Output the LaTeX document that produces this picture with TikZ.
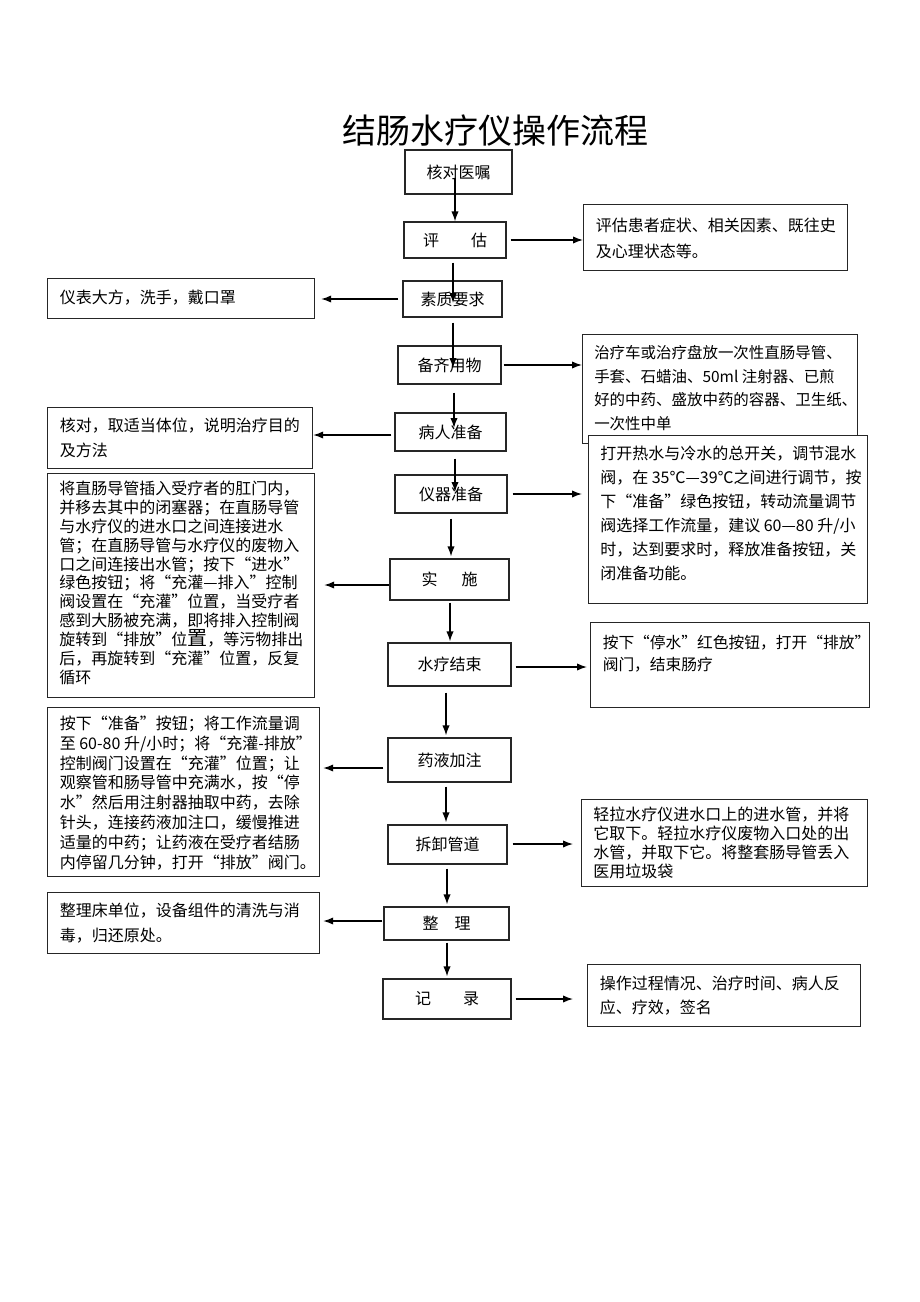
\documentclass[tikz,border=0pt]{standalone}
\usepackage{fontspec}
\setmainfont{Noto Sans CJK SC}
\usetikzlibrary{arrows.meta}

\begin{document}
\begin{tikzpicture}[x=0.75pt,y=-0.75pt,
  box/.style={draw=black!85,line width=0.9pt,fill=white,inner sep=0pt,font=\fontsize{12}{14}\selectfont},
  sidebox/.style={draw=black!85,line width=0.9pt,fill=white,anchor=north west,inner sep=0pt},
  note/.style={anchor=north west,inner sep=0pt,align=left},
  flow/.style={line width=1pt,-{Latex[length=7.5pt,width=5.5pt]}}
]
\useasboundingbox (0,0) rectangle (920,1302);

\node[font=\fontsize{25.5}{30}\selectfont] (title) at (495.5,131) {结肠水疗仪操作流程};

% main steps
\node[box,minimum width=107*0.75pt,minimum height=44*0.75pt] (hedui) at (458.5,172) {核对医嘱};
\node[box,minimum width=102*0.75pt,minimum height=36*0.75pt] (pinggu) at (455,240) {评\hspace{2em}估};
\node[box,minimum width=99*0.75pt,minimum height=36*0.75pt] (suzhi) at (452.5,299) {素质要求};
\node[box,minimum width=103*0.75pt,minimum height=38*0.75pt] (beiqi) at (449.5,365) {备齐用物};
\node[box,minimum width=111*0.75pt,minimum height=38*0.75pt] (bingren) at (450.5,432) {病人准备};
\node[box,minimum width=112*0.75pt,minimum height=38*0.75pt] (yiqi) at (451,494) {仪器准备};
\node[box,minimum width=119*0.75pt,minimum height=41*0.75pt] (shishi) at (449.5,579.5) {实\hspace{1.5em}施};
\node[box,minimum width=123*0.75pt,minimum height=43*0.75pt] (jieshu) at (449.5,664.5) {水疗结束};
\node[box,minimum width=123*0.75pt,minimum height=44*0.75pt] (yaoye) at (449.5,760) {药液加注};
\node[box,minimum width=119*0.75pt,minimum height=39*0.75pt] (chaixie) at (447.5,844.5) {拆卸管道};
\node[box,minimum width=125*0.75pt,minimum height=33*0.75pt] (zhengli) at (446.5,923.5) {整\hspace{1em}理};
\node[box,minimum width=128*0.75pt,minimum height=40*0.75pt] (jilu) at (447,999) {记\hspace{2em}录};

% side notes
\node[sidebox,minimum width=264*0.75pt,minimum height=66*0.75pt] (pinggu_r) at (583,204) {};
\node[note,font=\fontsize{12}{20}\selectfont] at ([shift={(12.5,13.5)}]pinggu_r.north west)
  {评估患者症状、相关因素、既往史\\及心理状态等。};

\node[sidebox,minimum width=267*0.75pt,minimum height=40*0.75pt] (suzhi_l) at (47,278) {};
\node[note,font=\fontsize{12}{19}\selectfont] at ([shift={(12.5,11.5)}]suzhi_l.north west)
  {仪表大方，洗手，戴口罩};

\node[sidebox,minimum width=275*0.75pt,minimum height=109*0.75pt] (beiqi_r) at (582,334) {};
\node[note,font=\fontsize{11.6}{17.6}\selectfont] at ([shift={(12,11.5)}]beiqi_r.north west)
  {治疗车或治疗盘放一次性直肠导管、\\手套、石蜡油、50ml 注射器、已煎\\好的中药、盛放中药的容器、卫生纸、\\一次性中单};

\node[sidebox,minimum width=265*0.75pt,minimum height=61*0.75pt] (bingren_l) at (47,407) {};
\node[note,font=\fontsize{12}{19}\selectfont] at ([shift={(12.5,10.5)}]bingren_l.north west)
  {核对，取适当体位，说明治疗目的\\及方法};

\node[sidebox,minimum width=279*0.75pt,minimum height=168*0.75pt] (yiqi_r) at (588,435) {};
\node[note,font=\fontsize{12}{18}\selectfont] at ([shift={(12,10.5)}]yiqi_r.north west)
  {打开热水与冷水的总开关，调节混水\\阀，在 35℃—39℃之间进行调节，按\\下“准备”绿色按钮，转动流量调节\\阀选择工作流量，建议 60—80 升/小\\时，达到要求时，释放准备按钮，关\\闭准备功能。};

\node[sidebox,minimum width=267*0.75pt,minimum height=224*0.75pt] (shishi_l) at (47,473) {};
\node[note,font=\fontsize{12}{14.2}\selectfont] at ([shift={(12,7.5)}]shishi_l.north west)
  {将直肠导管插入受疗者的肛门内，\\并移去其中的闭塞器；在直肠导管\\与水疗仪的进水口之间连接进水\\管；在直肠导管与水疗仪的废物入\\口之间连接出水管；按下“进水”\\绿色按钮；将“充灌—排入”控制\\阀设置在“充灌”位置，当受疗者\\感到大肠被充满，即将排入控制阀\\旋转到“排放”位{\fontsize{15}{14.2}\selectfont 置}，等污物排出\\后，再旋转到“充灌”位置，反复\\循环};

\node[sidebox,minimum width=279*0.75pt,minimum height=85*0.75pt] (jieshu_r) at (590,622) {};
\node[note,font=\fontsize{11.8}{16.5}\selectfont] at ([shift={(12.5,12.5)}]jieshu_r.north west)
  {按下“停水”红色按钮，打开“排放”\\阀门，结束肠疗};

\node[sidebox,minimum width=272*0.75pt,minimum height=169*0.75pt] (yaoye_l) at (47,707) {};
\node[note,font=\fontsize{12}{14.9}\selectfont] at ([shift={(12.5,8.5)}]yaoye_l.north west)
  {按下“准备”按钮；将工作流量调\\至 60-80 升/小时；将“充灌-排放”\\控制阀门设置在“充灌”位置；让\\观察管和肠导管中充满水，按“停\\水”然后用注射器抽取中药，去除\\针头，连接药液加注口，缓慢推进\\适量的中药；让药液在受疗者结肠\\内停留几分钟，打开“排放”阀门。};

\node[sidebox,minimum width=286*0.75pt,minimum height=87*0.75pt] (chaixie_r) at (581,799) {};
\node[note,font=\fontsize{12}{14.3}\selectfont] at ([shift={(12,7.5)}]chaixie_r.north west)
  {轻拉水疗仪进水口上的进水管，并将\\它取下。轻拉水疗仪废物入口处的出\\水管，并取下它。将整套肠导管丢入\\医用垃圾袋};

\node[sidebox,minimum width=272*0.75pt,minimum height=61*0.75pt] (zhengli_l) at (47,892) {};
\node[note,font=\fontsize{12}{19}\selectfont] at ([shift={(12.5,10.5)}]zhengli_l.north west)
  {整理床单位，设备组件的清洗与消\\毒，归还原处。};

\node[sidebox,minimum width=273*0.75pt,minimum height=62*0.75pt] (jilu_r) at (587,964) {};
\node[note,font=\fontsize{12}{18}\selectfont] at ([shift={(12.5,11.5)}]jilu_r.north west)
  {操作过程情况、治疗时间、病人反\\应、疗效，签名};

% down the middle
\draw[flow] ([shift={(-3.5,-17)}]hedui.south) -- ([shift={(-3.5,0)}]hedui.south |- pinggu.north);
\draw[flow] ([shift={(-2,4)}]pinggu.south) -- ([shift={(0.5,4)}]suzhi.center);
\draw[flow] ([shift={(0.5,5)}]suzhi.south) -- ([shift={(3.5,3)}]beiqi.center);
\draw[flow] ([shift={(4.5,8)}]beiqi.south) -- ([shift={(3.5,-4)}]bingren.center);
\draw[flow] ([shift={(4.5,7)}]bingren.south) -- ([shift={(4,-2)}]yiqi.center);
\draw[flow] ([shift={(0,5)}]yiqi.south) -- ([shift={(1.5,-2)}]shishi.north);
\draw[flow] ([shift={(0.5,2)}]shishi.south) -- ([shift={(0.5,-1)}]jieshu.north);
\draw[flow] ([shift={(-3.5,6)}]jieshu.south) -- ([shift={(-3.5,-2)}]yaoye.north);
\draw[flow] ([shift={(-3.5,4)}]yaoye.south) -- ([shift={(-1.5,-2)}]chaixie.north);
\draw[flow] ([shift={(-0.5,4)}]chaixie.south) -- ([shift={(0.5,-2)}]zhengli.north);
\draw[flow] ([shift={(0.5,2)}]zhengli.south) -- ([shift={(0,-2)}]jilu.north);

% out to the notes
\draw[flow,shorten <=3pt] (pinggu.east) -- (pinggu.east -| pinggu_r.west);
\draw[flow,shorten <=3pt,shorten >=4.5pt] (suzhi.west) -- (suzhi.west -| suzhi_l.east);
\draw[flow,shorten <=1.5pt] (beiqi.east) -- (beiqi.east -| beiqi_r.west);
\draw[flow,shorten <=2.25pt] ([shift={(0,3)}]bingren.west) -- ([shift={(0,3)}]bingren.west -| bingren_l.east);
\draw[flow,shorten <=3.75pt,shorten >=4.5pt] (yiqi.east) -- (yiqi.east -| yiqi_r.west);
\draw[flow,shorten >=6.75pt] ([shift={(0,5.5)}]shishi.west) -- ([shift={(0,5.5)}]shishi.west -| shishi_l.east);
\draw[flow,shorten <=3pt,shorten >=2.25pt] ([shift={(0,2.5)}]jieshu.east) -- ([shift={(0,2.5)}]jieshu.east -| jieshu_r.west);
\draw[flow,shorten <=3pt,shorten >=2.25pt] ([shift={(0,8)}]yaoye.west) -- ([shift={(0,8)}]yaoye.west -| yaoye_l.east);
\draw[flow,shorten <=3.75pt,shorten >=6pt] ([shift={(0,-0.5)}]chaixie.east) -- ([shift={(0,-0.5)}]chaixie.east -| chaixie_r.west);
\draw[flow,shorten <=0.75pt,shorten >=2.25pt] ([shift={(0,-2.5)}]zhengli.west) -- ([shift={(0,-2.5)}]zhengli.west -| zhengli_l.east);
\draw[flow,shorten <=3pt,shorten >=10.5pt] (jilu.east) -- (jilu.east -| jilu_r.west);

\end{tikzpicture}
\end{document}
